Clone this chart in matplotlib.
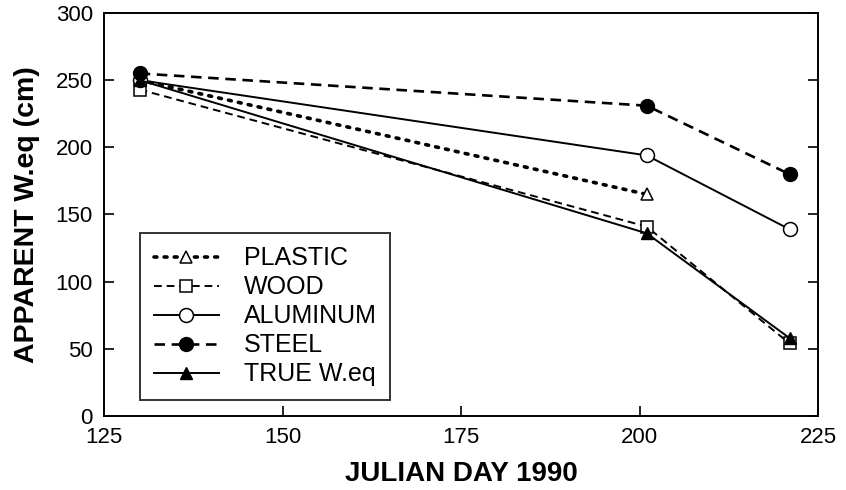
import matplotlib
matplotlib.use("Agg")
import matplotlib.pyplot as plt

plt.rcParams['font.family'] = ['Liberation Sans', 'DejaVu Sans']

days = [130, 201, 221]
plastic_days = [130, 201]
plastic = [250, 165]
wood = [243, 141, 54]
aluminum = [250, 194, 139]
steel = [255, 231, 180]
true_weq = [250, 136, 58]

xticks = [125, 150, 175, 200, 225]
yticks = [0, 50, 100, 150, 200, 250, 300]

fig = plt.figure(figsize=(8.46, 4.90), dpi=100)
ax = fig.add_axes([0.1229, 0.151, 0.8441, 0.8225])

ax.plot(plastic_days, plastic, linestyle=(0, (0.8, 2.0)), linewidth=2.6, color='black',
        dash_capstyle='round',
        marker='^', markersize=9, markerfacecolor='white', markeredgecolor='black',
        markeredgewidth=1.1, label='PLASTIC')
ax.plot(days, wood, linestyle=(0, (4, 2.5)), linewidth=1.4, color='black',
        marker='s', markersize=8, markerfacecolor='white', markeredgecolor='black',
        markeredgewidth=1.1, label='WOOD')
ax.plot(days, aluminum, linestyle='-', linewidth=1.4, color='black',
        marker='o', markersize=10, markerfacecolor='white', markeredgecolor='black',
        markeredgewidth=1.1, label='ALUMINUM')
ax.plot(days, steel, linestyle=(0, (4, 2.5)), linewidth=1.9, color='black',
        marker='o', markersize=10, markerfacecolor='black', markeredgecolor='black',
        label='STEEL')
ax.plot(days, true_weq, linestyle='-', linewidth=1.4, color='black',
        marker='^', markersize=9, markerfacecolor='black', markeredgecolor='black',
        label='TRUE W.eq')

ax.set_xlim(125, 225)
ax.set_ylim(0, 300)
ax.set_xticks(xticks)
ax.set_yticks(yticks)
ax.tick_params(axis='both', direction='in', length=7, width=1.2, labelsize=16,
               right=True, top=False)
ax.tick_params(axis='x', pad=8)
ax.tick_params(axis='y', pad=8)
for s in ax.spines.values():
    s.set_linewidth(1.4)

ax.set_xlabel('JULIAN DAY 1990', fontsize=20, fontweight='bold', labelpad=9)
ax.set_ylabel('APPARENT W.eq (cm)', fontsize=20.5, fontweight='bold', labelpad=11)

leg = ax.legend(loc='lower left', bbox_to_anchor=(0.0504, 0.0397), borderaxespad=0,
                fontsize=18, frameon=True, fancybox=False, edgecolor='black',
                handlelength=2.6, labelspacing=0.2, borderpad=0.55,
                handletextpad=1.0)
leg.get_frame().set_linewidth(1.4)

fig.savefig('out.png', dpi=100)
